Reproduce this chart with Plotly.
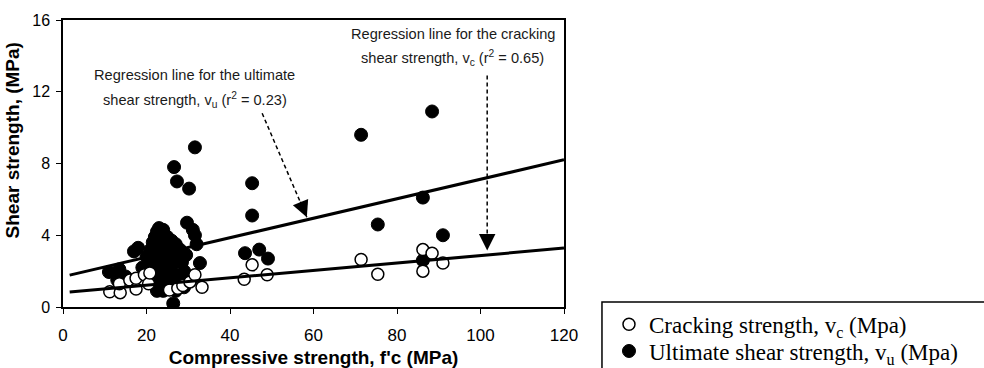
import numpy as np
import plotly.graph_objects as go

# ---- data ----
ult_x = [11.0, 13.5, 13.0, 15.0, 17.0, 18.0, 19.0, 20.0,
         21.0, 21.5, 22.0, 22.5, 23.0, 23.5, 24.0, 24.5, 25.0, 25.5, 26.0, 26.5,
         27.0, 27.5, 28.0, 28.5, 22.0, 23.0, 24.0, 25.0, 26.0, 21.5, 22.5, 23.5,
         24.5, 25.5, 26.5, 27.5, 23.0, 24.0, 25.0, 22.0, 26.0, 29.0, 28.0, 21.0,
         20.5, 24.0, 23.0, 29.5, 22.5, 24.0, 27.0, 29.0,
         26.4, 26.6, 27.3, 30.2, 31.6, 29.7, 31.1, 31.6, 32.0, 32.8, 31.0,
         43.6, 45.3, 45.3, 47.0, 49.1,
         71.4, 75.4, 86.2, 86.2, 88.4, 91.0]
ult_y = [1.95, 2.1, 1.5, 1.7, 3.1, 3.3, 2.2, 2.8,
         3.2, 3.6, 3.9, 4.2, 4.4, 3.8, 4.3, 3.5, 3.9, 3.3, 3.7, 3.0,
         3.5, 2.8, 3.2, 2.5, 3.0, 2.6, 2.9, 2.4, 2.2, 2.3, 1.9, 2.0,
         1.7, 1.5, 1.8, 1.4, 1.3, 1.1, 1.0, 1.2, 1.2, 2.0, 1.6, 1.6,
         2.0, 3.3, 3.5, 2.9, 0.9, 0.9, 0.9, 1.1,
         0.2, 7.8, 7.0, 6.6, 8.9, 4.7, 4.3, 4.0, 3.5, 2.45, 1.6,
         3.0, 6.9, 5.1, 3.2, 2.7,
         9.6, 4.6, 6.1, 2.6, 10.9, 4.0]

crk_x = [11.2, 13.7, 13.5, 16.0, 17.5, 17.5, 19.5, 20.5, 20.8,
         25.5, 27.5, 28.7, 30.4, 31.6, 33.3,
         43.4, 45.3, 48.9,
         71.4, 75.4, 86.2, 88.4, 86.2, 91.0]
crk_y = [0.85, 0.8, 1.3, 1.5, 1.0, 1.6, 1.8, 1.3, 1.9,
         0.95, 1.05, 1.2, 1.4, 1.8, 1.1,
         1.55, 2.35, 1.8,
         2.65, 1.83, 3.2, 3.0, 2.0, 2.45]

# regression lines (intercept, slope) and x span
ult_fit = (1.69, 0.0543)
crk_fit = (0.80, 0.0207)
fit_x = np.array([1.6, 120.0])

x_ticks = [0, 20, 40, 60, 80, 100, 120]
y_ticks = [0, 4, 8, 12, 16]

SANS = "Liberation Sans, Arial, sans-serif"
SERIF = "Liberation Serif, Times New Roman, serif"

fig = go.Figure()

fig.add_trace(go.Scatter(
    x=ult_x, y=ult_y, mode="markers",
    name="Ultimate shear strength, v<sub>u</sub> (Mpa)",
    marker=dict(symbol="circle", size=13, color="black",
                line=dict(color="black", width=1)),
    legend="legend2"))

fig.add_trace(go.Scatter(
    x=crk_x, y=crk_y, mode="markers",
    name="Cracking strength, v<sub>c</sub> (Mpa)",
    marker=dict(symbol="circle", size=12, color="white",
                line=dict(color="black", width=1.5)),
    legend="legend"))

for fit in (ult_fit, crk_fit):
    fig.add_trace(go.Scatter(
        x=fit_x, y=fit[0] + fit[1] * fit_x, mode="lines",
        line=dict(color="black", width=3), showlegend=False,
        hoverinfo="skip"))

# dashed arrows: (start x, start y, tip x, tip y, head offset px)
arrows = [
    (47.7, 10.8, 58.4, 5.0, (-7, -17)),
    (101.6, 12.9, 101.6, 3.15, (0, -18)),
]
for sx, sy, tx, ty, (hx, hy) in arrows:
    fig.add_shape(type="line", xref="x", yref="y", x0=sx, y0=sy, x1=tx, y1=ty,
                  line=dict(color="black", width=1.5, dash="4px,3px"))
    fig.add_annotation(x=tx, y=ty, xref="x", yref="y", ax=hx, ay=hy,
                       showarrow=True, arrowhead=2, arrowsize=2.2,
                       arrowwidth=1.5, arrowcolor="black", text="")

labels = [
    (31.6, 12.93, "Regression line for the ultimate"),
    (31.6, 11.54, "shear strength, v<sub>u</sub> (r<sup>2</sup> = 0.23)"),
    (93.4, 15.22, "Regression line for the cracking"),
    (93.4, 13.88, "shear strength, v<sub>c</sub> (r<sup>2</sup> = 0.65)"),
]
for lx, ly, txt in labels:
    fig.add_annotation(x=lx, y=ly, xref="x", yref="y", text=txt,
                       showarrow=False, font=dict(family=SANS, size=14.6, color="#1a1a1a"))

# y-axis title (placed above plot centre, as in reference)
fig.add_annotation(x=-0.1, y=0.58, xref="paper", yref="paper", xanchor="center",
                   yanchor="middle", text="<b>Shear strength, (MPa)</b>",
                   textangle=-90, showarrow=False,
                   font=dict(family=SANS, size=19, color="black"))

# legend frame
fig.add_shape(type="rect", xref="paper", yref="paper",
              x0=1.0758, x1=2.0, y0=0.0174, y1=-1.0,
              line=dict(color="black", width=1.5), fillcolor="rgba(0,0,0,0)")

leg_common = dict(xanchor="left", yanchor="top",
                  font=dict(family=SERIF, size=23, color="black"),
                  bgcolor="rgba(0,0,0,0)", borderwidth=0, itemsizing="trace")

fig.update_layout(
    width=984, height=368,
    margin=dict(l=63, r=420, t=20, b=61, autoexpand=False),
    paper_bgcolor="white", plot_bgcolor="white",
    showlegend=True,
    legend=dict(x=1.0898, y=0.0145, **leg_common),
    legend2=dict(x=1.0898, y=-0.0785, **leg_common),
    xaxis=dict(range=[0, 120], tickvals=x_ticks, ticks="outside", ticklen=5,
               tickcolor="black", showline=True, mirror=True, linecolor="black",
               linewidth=1.5, showgrid=False, zeroline=False, automargin=False,
               ticklabelstandoff=7,
               tickfont=dict(family=SANS, size=17, color="black"),
               title=dict(text="<b>Compressive strength, f'c (MPa)</b>",
                          font=dict(family=SANS, size=19, color="black"),
                          standoff=7)),
    yaxis=dict(range=[0, 16], tickvals=y_ticks, ticks="outside", ticklen=5,
               tickcolor="black", showline=True, mirror=True, linecolor="black",
               linewidth=1.5, showgrid=False, zeroline=False, automargin=False,
               ticklabelstandoff=3,
               tickfont=dict(family=SANS, size=16, color="black")),
)

fig.write_html("out.html")
